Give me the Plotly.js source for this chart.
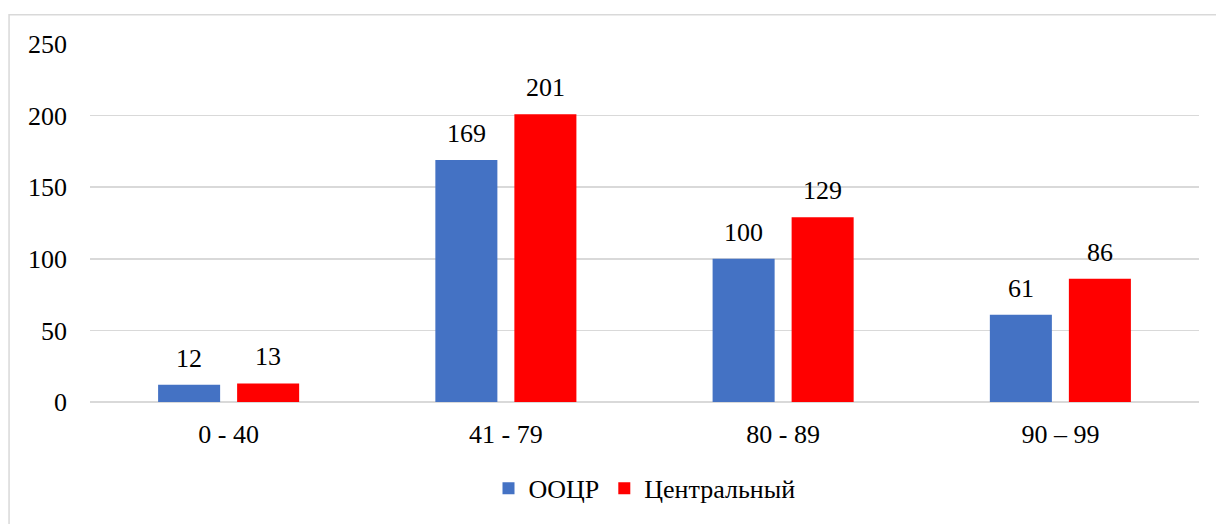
<!DOCTYPE html>
<html><head><meta charset="utf-8">
<script src="https://cdn.plot.ly/plotly-3.0.1.min.js"></script>
<style>html,body{margin:0;padding:0;background:#fff;}</style>
</head><body><div id="chart" style="width:1216px;height:524px"></div>
<script>
const categories = ["0 - 40", "41 - 79", "80 - 89", "90 – 99"];
const seriesNames = ["ООЦР", "Центральный"];
const ocrValues = [12, 169, 100, 61];
const centralValues = [13, 201, 129, 86];
const yTicks = [0, 50, 100, 150, 200, 250];

const colors = ["#4472C4", "#FF0000"];
const seriesValues = [ocrValues, centralValues];

const traces = seriesValues.map((vals, i) => ({
  type: "bar", name: seriesNames[i], x: categories, y: vals,
  marker: {color: colors[i]}
}));

const annotations = [];
seriesValues.forEach((vals, i) => {
  vals.forEach((v, j) => {
    annotations.push({
      x: categories[j], y: v, xref: "x", yref: "y", text: String(v),
      showarrow: false, yanchor: "bottom", xshift: (i === 0 ? -39.5 : 39.5), yshift: 10
    });
  });
});

const layout = {
  width: 1216, height: 524,
  margin: {l: 90, r: 17, t: 44, b: 119},
  paper_bgcolor: "#fff", plot_bgcolor: "#fff",
  barmode: "group", bargap: 0.43, bargroupgap: 0.215,
  font: {family: "Times New Roman", size: 26, color: "#000"},
  xaxis: {type: "category", showgrid: false, zeroline: false, showline: false, ticks: "", ticklabelstandoff: 14},
  yaxis: {range: [0, 250], tickvals: yTicks, showgrid: true, gridcolor: "#d9d9d9", gridwidth: 1.5,
          zeroline: true, zerolinecolor: "#d9d9d9", zerolinewidth: 1.5, showline: false, ticks: "",
          ticklabelstandoff: 22},
  showlegend: true,
  legend: {orientation: "h", x: 0.5, xanchor: "center", y: -0.241, yanchor: "middle", itemwidth: 30},
  annotations: annotations,
  shapes: [{type: "rect", xref: "paper", yref: "paper", x0: -0.073, x1: 1.2, y0: -0.5, y1: 1.082,
            line: {color: "#d9d9d9", width: 1.5}, fillcolor: "rgba(0,0,0,0)", layer: "below"}]
};
Plotly.newPlot("chart", traces, layout, {staticPlot: true});
</script></body></html>
